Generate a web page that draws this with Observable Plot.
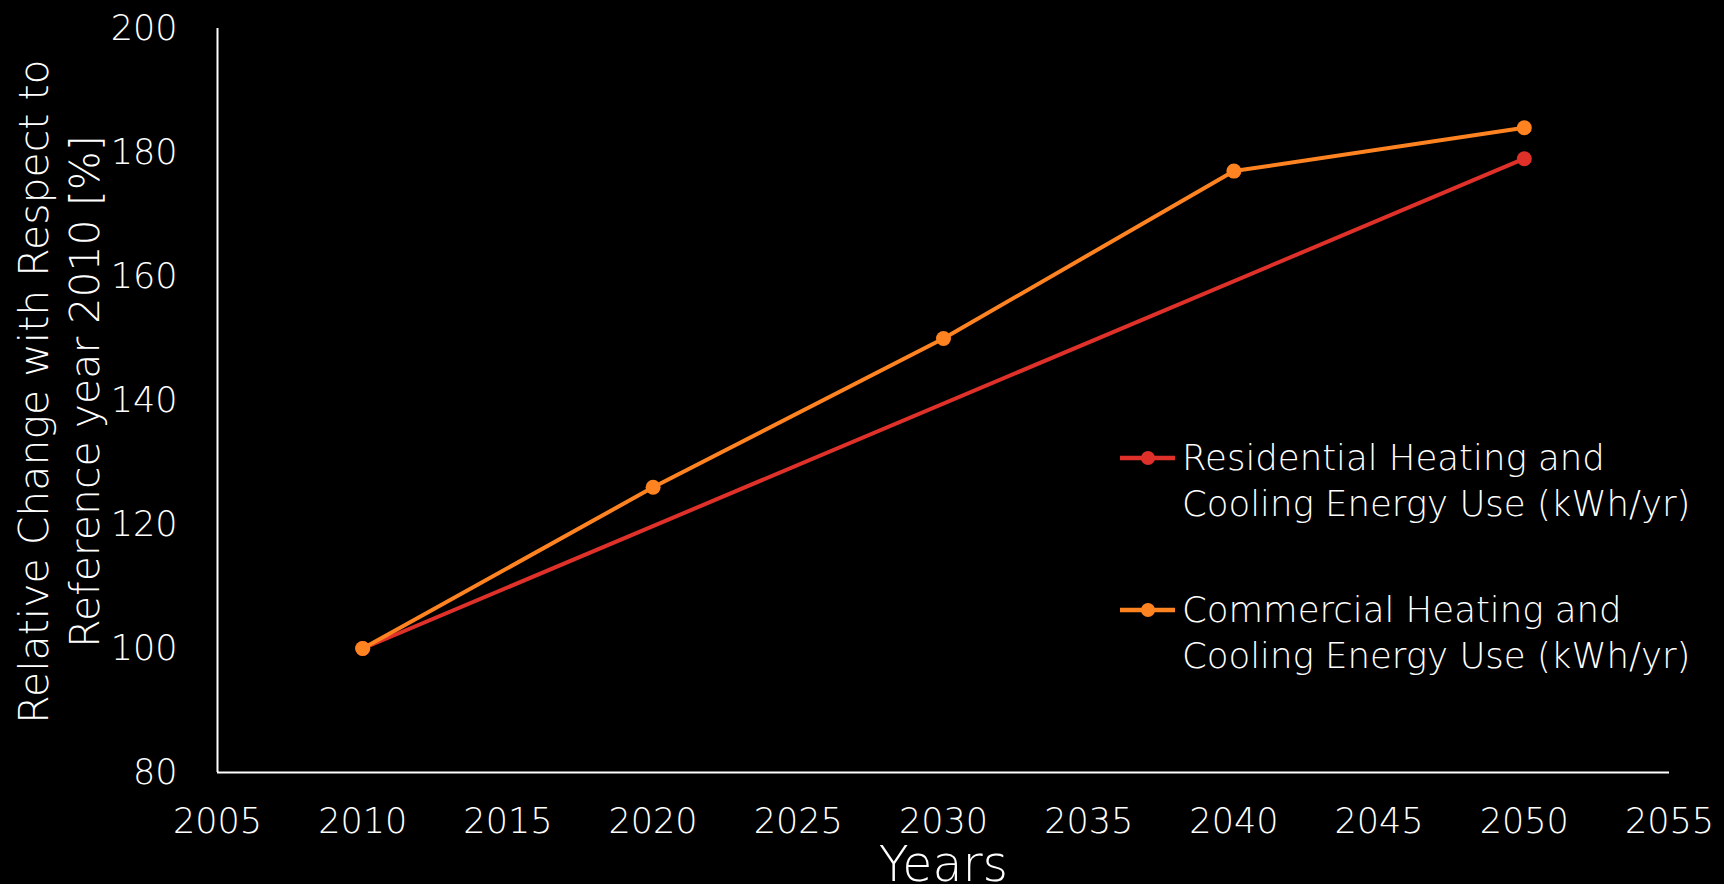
<!DOCTYPE html>
<html><head><meta charset="utf-8">
<script src="https://cdn.jsdelivr.net/npm/d3@7"></script>
<script src="https://cdn.jsdelivr.net/npm/@observablehq/plot@0.6"></script>
<style>html,body{margin:0;padding:0;background:#000;overflow:hidden;}</style>
</head><body><div id="chart"></div>
<script>
const residentialYears = [2010, 2050];
const residential = [100, 179];
const commercialYears = [2010, 2020, 2030, 2040, 2050];
const commercial = [100, 126, 150, 177, 184];
const seriesNames = ["Residential Heating and\nCooling Energy Use (kWh/yr)", "Commercial Heating and\nCooling Energy Use (kWh/yr)"];
const seriesColors = ["#DF3129", "#FF8320"];
const xTicks = [2005, 2010, 2015, 2020, 2025, 2030, 2035, 2040, 2045, 2050, 2055];
const yTicks = [80, 100, 120, 140, 160, 180, 200];
const xLabel = "Years";
const yLabel = "Relative Change with Respect to\nReference year 2010 [%]";

const FONT = "'DejaVu Sans', sans-serif";
const WEIGHT = 200;
const data = [
  ...residentialYears.map((y, i) => ({year: y, value: residential[i], series: seriesNames[0]})),
  ...commercialYears.map((y, i) => ({year: y, value: commercial[i], series: seriesNames[1]}))
];

const seriesMarks = seriesNames.flatMap(name => {
  const d = data.filter(r => r.series === name);
  return [
    Plot.line(d, {x: "year", y: "value", stroke: "series", strokeWidth: 4}),
    Plot.dot(d, {x: "year", y: "value", fill: "series", r: 7.5})
  ];
});

const plot = Plot.plot({
  width: 1724, height: 884,
  marginLeft: 217, marginRight: 55, marginTop: 28, marginBottom: 112,
  style: {background: "#000", color: "#fff", fontFamily: FONT, fontSize: "35px", fontWeight: WEIGHT},
  x: {domain: [2005, 2055]},
  y: {domain: [80, 200]},
  color: {domain: seriesNames, range: seriesColors},
  marks: [
    Plot.axisX({ticks: xTicks, tickSize: 0, tickPadding: 36, label: null, tickFormat: d => String(d), fontSize: 35, fill: "#fff"}),
    Plot.axisY({ticks: yTicks, tickSize: 0, tickPadding: 40, label: null, fontSize: 35, fill: "#fff"}),
    Plot.ruleX([2005], {stroke: "#fff", strokeWidth: 2}),
    Plot.ruleY([80], {stroke: "#fff", strokeWidth: 2}),
    ...seriesMarks,
    Plot.text([xLabel], {frameAnchor: "bottom", dy: 93, fontSize: 49, fill: "#fff", lineAnchor: "middle"}),
    Plot.text([yLabel], {frameAnchor: "left", dx: -160, dy: -9, rotate: -90, fontSize: 41, lineHeight: 1.244, fill: "#fff", textAnchor: "middle", lineAnchor: "middle"})
  ]
});

const svg = d3.select(plot);
const lg = svg.append("g").attr("font-family", FONT).attr("font-weight", WEIGHT)
  .attr("font-size", 35.5).attr("fill", "#fff").attr("text-anchor", "start");
seriesNames.forEach((name, i) => {
  const y0 = 458 + i * 152;
  lg.append("line").attr("x1", 1120).attr("x2", 1175).attr("y1", y0).attr("y2", y0)
    .attr("stroke", seriesColors[i]).attr("stroke-width", 4.5);
  lg.append("circle").attr("cx", 1148).attr("cy", y0).attr("r", 7).attr("fill", seriesColors[i]);
  name.split("\n").forEach((t, j) => {
    lg.append("text").attr("x", 1182).attr("y", y0 + 12 + j * 46).text(t);
  });
});
document.getElementById("chart").append(plot);
</script></body></html>
